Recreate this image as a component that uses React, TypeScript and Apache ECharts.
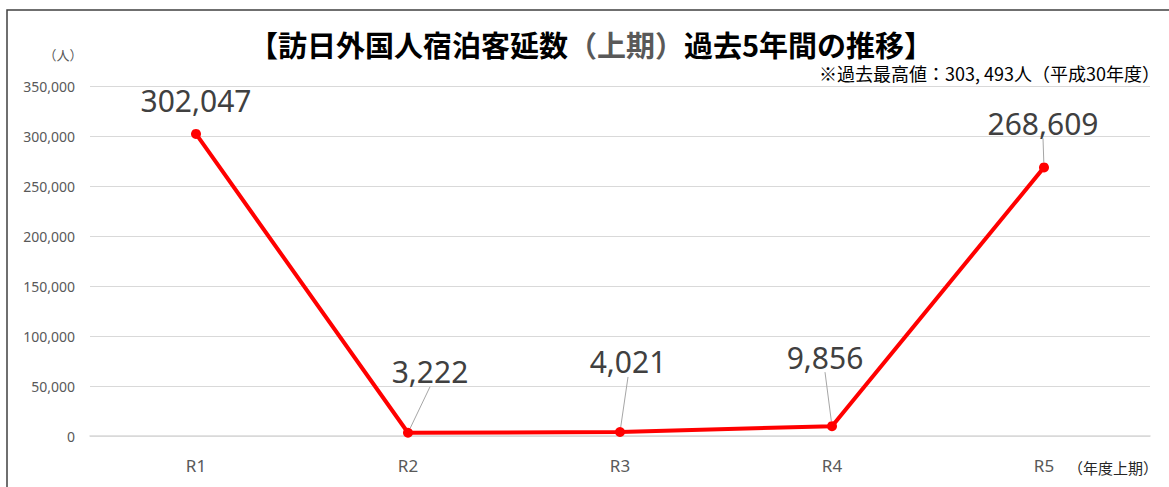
import React, { useEffect, useRef } from "react";
import * as echarts from "echarts";

const categories = ["R1", "R2", "R3", "R4", "R5"];
const guests = [302047, 3222, 4021, 9856, 268609];
const yTicks = { min: 0, max: 350000, interval: 50000 };
// label displacement relative to the default "top" position
const labelShift = [
  [0, -8],
  [22, -36],
  [8, -45],
  [-7, -44],
  [-1, -19],
];
const showLeader = [false, true, true, true, true];

export default function App() {
  const ref = useRef<HTMLDivElement>(null);
  useEffect(() => {
    document.body.style.margin = "0";
    const chart = echarts.init(ref.current!, null, { renderer: "svg" });
    chart.setOption({
      animation: false,
      backgroundColor: "#ffffff",
      title: {
        text: "{a|【訪日外国人宿泊客延数}{b|（上期）}{a|過去5年間の推移】}",
        left: 244,
        top: 24,
        textStyle: {
          rich: {
            a: { fontFamily: "Noto Sans CJK JP", fontWeight: "bold", fontSize: 29, color: "#000000" },
            b: { fontFamily: "Noto Sans CJK JP", fontWeight: "bold", fontSize: 29, color: "#595959" },
          },
        },
      },
      graphic: [
        {
          type: "rect",
          shape: { x: 7, y: 10, width: 1300, height: 700 },
          style: { fill: "none", stroke: "#404040", lineWidth: 1.5 },
          silent: true,
        },
        {
          type: "text",
          x: 1160,
          y: 73,
          style: {
            text: "※過去最高値：303, 493人（平成30年度）",
            fontFamily: "Noto Sans CJK JP",
            fontSize: 18,
            fill: "#000000",
            textAlign: "right",
            textVerticalAlign: "middle",
          },
        },
        {
          type: "text",
          x: 63,
          y: 54,
          style: {
            text: "（人）",
            fontFamily: "Noto Sans CJK JP",
            fontSize: 13,
            fill: "#595959",
            textAlign: "center",
            textVerticalAlign: "middle",
          },
        },
        {
          type: "text",
          x: 1158,
          y: 467,
          style: {
            text: "（年度上期）",
            fontFamily: "Noto Sans CJK JP",
            fontSize: 15,
            fill: "#262626",
            textAlign: "right",
            textVerticalAlign: "middle",
          },
        },
      ],
      grid: { left: 90, right: 19, top: 86, bottom: 51, containLabel: false },
      xAxis: {
        type: "category",
        data: categories,
        boundaryGap: true,
        axisLine: { show: true, lineStyle: { color: "#d9d9d9", width: 1.5 } },
        axisTick: { show: false },
        axisLabel: { color: "#595959", fontSize: 17, fontFamily: "Noto Sans", margin: 21 },
      },
      yAxis: {
        type: "value",
        min: yTicks.min,
        max: yTicks.max,
        interval: yTicks.interval,
        axisLine: { show: false },
        axisTick: { show: false },
        splitLine: { lineStyle: { color: "#d9d9d9", width: 1 } },
        axisLabel: {
          color: "#595959",
          fontSize: 14,
          fontFamily: "Noto Sans",
          margin: 15,
          formatter: (v: number) => v.toLocaleString("en-US"),
        },
      },
      series: [
        {
          type: "line",
          data: guests.map((v, i) => ({ value: v, labelLine: { show: showLeader[i] } })),
          symbol: "circle",
          symbolSize: 10,
          lineStyle: { color: "#ff0000", width: 4 },
          itemStyle: { color: "#ff0000" },
          label: {
            show: true,
            position: "top",
            distance: 5,
            fontSize: 30,
            fontFamily: "Noto Sans",
            color: "#404040",
            formatter: (p: any) => Number(p.value).toLocaleString("en-US"),
          },
          labelLine: { show: true, lineStyle: { color: "#a6a6a6", width: 1 } },
          labelLayout: (p: any) => ({
            dx: labelShift[p.dataIndex][0],
            dy: labelShift[p.dataIndex][1],
          }),
        },
      ],
    });
    return () => chart.dispose();
  }, []);
  return <div ref={ref} style={{ width: 1169, height: 487 }} />;
}
